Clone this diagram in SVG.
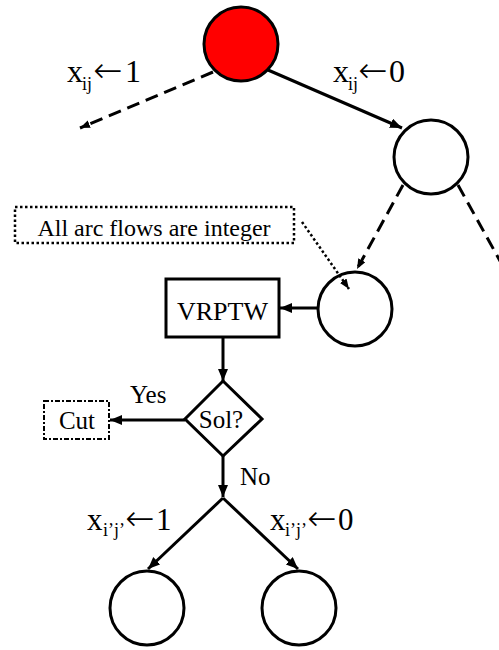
<svg xmlns="http://www.w3.org/2000/svg" width="499" height="650" viewBox="0 0 499 650">
<defs>
<style>
.node{fill:#fff;stroke:#000;stroke-width:3}
.root{fill:#ff0000;stroke:#000;stroke-width:3}
.line{fill:none;stroke:#000;stroke-width:3}
.dash{stroke-dasharray:13 7}
.dot{stroke-dasharray:2.5 2.5;stroke-width:2.5}
text{font-family:'Liberation Serif','Times New Roman',serif;fill:#000}
.arr{font-family:'DejaVu Sans',sans-serif;font-size:35px;font-weight:200}
</style>
<marker id="ah" markerUnits="userSpaceOnUse" markerWidth="14" markerHeight="12" refX="12" refY="5" orient="auto">
<path d="M0,0 L12,5 L0,10 Z" fill="#000"/>
</marker>
<marker id="ahs" markerUnits="userSpaceOnUse" markerWidth="12" markerHeight="10" refX="10" refY="4" orient="auto">
<path d="M0,0 L10,4 L0,8 Z" fill="#000"/>
</marker>
</defs>
<g id="root"><circle class="root" cx="241" cy="44" r="37"/></g>
<g id="n1"><circle class="node" cx="431" cy="157" r="37"/></g>
<g id="n2"><circle class="node" cx="355" cy="309" r="37"/></g>
<g id="note"><rect x="15" y="207" width="279" height="36" fill="#fff" stroke="#000" stroke-width="2.5" stroke-dasharray="2.5 2.5"/><text x="154" y="236" font-size="24" text-anchor="middle">All arc flows are integer</text></g>
<g id="vrptw"><rect class="node" x="166" y="279" width="113" height="58" stroke-width="2.5"/><text x="222.5" y="320" font-size="26" text-anchor="middle">VRPTW</text></g>
<g id="sol"><path class="node" d="M223,381 L262,419 L223,456 L185,419 Z" stroke-width="2.5"/><text x="221" y="428" font-size="25" text-anchor="middle">Sol?</text></g>
<g id="cut"><rect x="44" y="401" width="65" height="38" fill="#fff" stroke="#000" stroke-width="2" stroke-dasharray="5 2 2 2"/><text x="77" y="429" font-size="25" text-anchor="middle">Cut</text></g>
<g id="n3"><circle class="node" cx="147" cy="608" r="37"/></g>
<g id="n4"><circle class="node" cx="299" cy="608" r="37"/></g>
<g id="connectors">
<path class="line dash" d="M213,72 L80,128" marker-end="url(#ahs)"/>
<path class="line" d="M268,70 L402,128" marker-end="url(#ah)"/>
<path class="line dash" d="M403,185 L357,269" marker-end="url(#ahs)"/>
<path class="line dash" d="M458,185 L520,297"/>
<path class="line dot" d="M302,222 L349,289" marker-end="url(#ahs)"/>
<path class="line" d="M317,308 L280,308" marker-end="url(#ah)"/>
<path class="line" d="M223,337 L223,381" marker-end="url(#ah)"/>
<path class="line" d="M185,420 L110,420" marker-end="url(#ah)"/>
<path class="line" d="M223,456 L223,497" marker-end="url(#ah)"/>
<path class="line" d="M223,498 L148,569" marker-end="url(#ah)"/>
<path class="line" d="M223,498 L298,569" marker-end="url(#ah)"/>
<text x="67" y="82" font-size="32">x<tspan x="82" dy="8" font-size="18">ij</tspan><tspan class="arr" x="93" dy="-8">←</tspan><tspan x="125">1</tspan></text>
<text x="333" y="82" font-size="32">x<tspan x="348" dy="8" font-size="18">ij</tspan><tspan class="arr" x="358" dy="-8">←</tspan><tspan x="389">0</tspan></text>
<text x="130" y="403" font-size="25">Yes</text>
<text x="240" y="485" font-size="25">No</text>
<text x="87" y="530" font-size="31">x<tspan x="103" dy="6" font-size="18">i’j’</tspan><tspan class="arr" x="125" dy="-6">←</tspan><tspan x="156">1</tspan></text>
<text x="270" y="530" font-size="31">x<tspan x="285" dy="6" font-size="18">i’j’</tspan><tspan class="arr" x="307" dy="-6">←</tspan><tspan x="338">0</tspan></text>
</g>
</svg>
